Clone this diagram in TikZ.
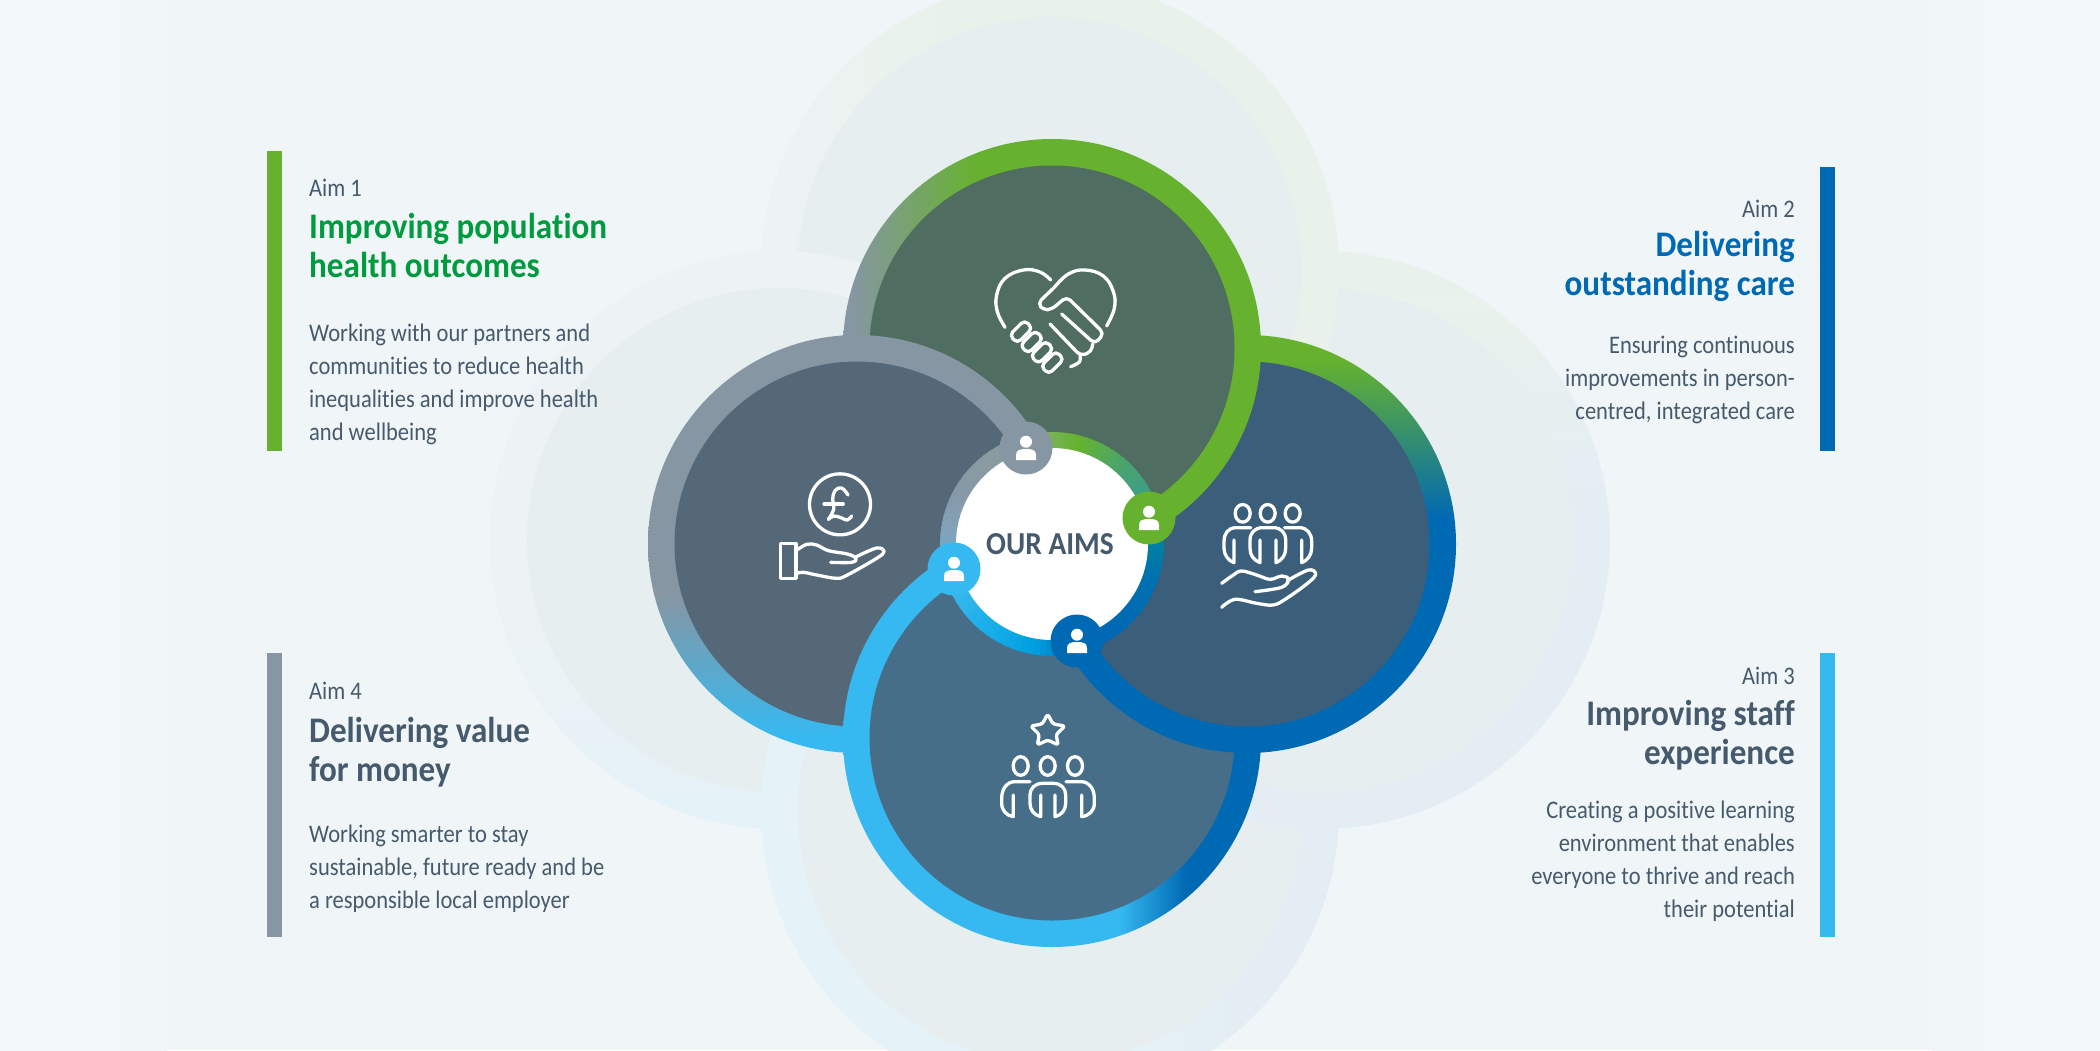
\documentclass[tikz,border=0pt]{standalone}
\usepackage{fontspec}
\setmainfont{Carlito}
\newfontfamily\bodyf[FakeStretch=0.89,Ligatures=NoCommon]{Carlito}
\newfontfamily\headf[FakeStretch=0.92,Ligatures=NoCommon]{Carlito}
\definecolor{bgmain}{HTML}{F0F5F8}
\definecolor{bgside}{HTML}{F3F8F8}
\definecolor{ghostin}{HTML}{E6EEEF}
\definecolor{cgreen}{HTML}{66B22E}
\definecolor{cblue}{HTML}{0069B4}
\definecolor{ccyan}{HTML}{36B9F0}
\definecolor{cgray}{HTML}{8696A3}
\definecolor{gleft}{HTML}{EDF2F4}
\definecolor{ggreen}{HTML}{E9F2EA}
\definecolor{gblue}{HTML}{E4EDF4}
\definecolor{gcyan}{HTML}{E5F2F7}
\definecolor{ftop}{HTML}{4F6D60}
\definecolor{fleft}{HTML}{556878}
\definecolor{fright}{HTML}{3B5F7B}
\definecolor{fbottom}{HTML}{466E88}
\definecolor{txt}{HTML}{465A6E}
\definecolor{headgreen}{HTML}{009B3E}
% main ring shadings
\pgfdeclarehorizontalshading{rtop}{100bp}{color(0bp)=(cgray); color(26bp)=(cgray); color(41bp)=(cgreen); color(100bp)=(cgreen)}
\pgfdeclareverticalshading{rright}{100bp}{color(0bp)=(cblue); color(53bp)=(cblue); color(72bp)=(cgreen); color(100bp)=(cgreen)}
\pgfdeclarehorizontalshading{rbottom}{100bp}{color(0bp)=(ccyan); color(58bp)=(ccyan); color(66bp)=(cblue); color(100bp)=(cblue)}
\pgfdeclareverticalshading{rleft}{100bp}{color(0bp)=(ccyan); color(27bp)=(ccyan); color(44bp)=(cgray); color(100bp)=(cgray)}
% pale lobes behind
\pgfdeclarehorizontalshading{gtop}{100bp}{color(0bp)=(gleft); color(26bp)=(gleft); color(41bp)=(ggreen); color(100bp)=(ggreen)}
\pgfdeclareverticalshading{gright}{100bp}{color(0bp)=(gblue); color(53bp)=(gblue); color(72bp)=(ggreen); color(100bp)=(ggreen)}
\pgfdeclarehorizontalshading{gbottom}{100bp}{color(0bp)=(gcyan); color(58bp)=(gcyan); color(66bp)=(gblue); color(100bp)=(gblue)}
\pgfdeclareverticalshading{gleftlobe}{100bp}{color(0bp)=(gcyan); color(27bp)=(gcyan); color(44bp)=(gleft); color(100bp)=(gleft)}
\newcommand{\lobe}[6]{%
  \shade[shading=#1] (#2,#3) circle[radius=#4pt];
  \fill[#6] (#2,#3) circle[radius=#5pt];}
% same lobe for the clipped repaint: the band alone is shaded, so no tint shows along the clip edge
\newcommand{\lobeband}[6]{%
  \fill[#6] (#2,#3) circle[radius=#5pt+1pt];
  \shade[shading=#1,even odd rule] (#2,#3) circle[radius=#4pt] (#2,#3) circle[radius=#5pt];}
\newcommand{\personicon}[1]{%
  \begin{scope}[shift={(#1.center)}]
    \fill[white] (0,-6.3) circle[radius=6pt];
    \fill[white] (-10,12) -- (-10,7) .. controls (-10,2) and (-6,1) .. (0,1) .. controls (6,1) and (10,2) .. (10,7) -- (10,12) -- cycle;
  \end{scope}}
\tikzset{
  icon/.style={draw=white,line width=3.3pt,line cap=round,line join=round},
  hub/.style={circle,minimum size=53pt,inner sep=0pt},
  aimlabel/.style={text=txt,inner sep=0pt,font=\bodyf\fontsize{25.3}{30}\selectfont},
  aimhead/.style={inner sep=0pt,font=\headf\fontsize{36}{39}\selectfont\bfseries},
  aimbody/.style={text=txt,inner sep=0pt,font=\bodyf\fontsize{25.3}{32.8}\selectfont},
}
\begin{document}
\begin{tikzpicture}[x=1pt,y=-1pt]
\useasboundingbox (0,0) rectangle (2100,1050);
\fill[bgmain] (0,0) rectangle (2100,1050);
\shade[left color=bgside,right color=bgmain!70!bgside] (0,0) rectangle (167,1050);
\shade[right color=bgside,left color=bgmain!70!bgside] (1932,0) rectangle (2100,1050);
% pale lobes
\begin{scope}
\clip (0,0) rectangle (2100,1050);
\lobe{gleftlobe}{779}{540}{289}{252}{ghostin}
\lobe{gbottom}{1050}{811}{289}{252}{ghostin}
\lobe{gright}{1321}{540}{289}{252}{ghostin}
\lobe{gtop}{1050}{269}{289}{252}{ghostin}
\begin{scope}
\clip (1050,269) circle[radius=291pt];
\lobeband{gleftlobe}{779}{540}{289}{252}{ghostin}
\end{scope}
\end{scope}
% main lobes, each one overlapping the next
\lobe{rleft}{857}{544}{209}{182.5}{fleft}
\lobe{rbottom}{1052}{738}{209}{182.5}{fbottom}
\lobe{rright}{1247}{544}{209}{182.5}{fright}
\lobe{rtop}{1052}{348}{209}{182.5}{ftop}
\begin{scope}
\clip (1052,348) circle[radius=211pt];
\lobeband{rleft}{857}{544}{209}{182.5}{fleft}
\end{scope}
% centre ring as a sweep of colours
\foreach \aa/\ab/\ca/\cb in {
  120/95/8A9B9E/7FB360, 95/75/7FB360/66B22E, 75/50/66B22E/4CA56A, 50/25/4CA56A/3A9C8A,
  25/5/3A9C8A/00849E, 5/-20/00849E/0070B0, -20/-50/0070B0/0069B4, -50/-75/0069B4/0069B4,
  -75/-100/0069B4/009FDF, -100/-130/009FDF/1CB0EA, -130/-160/1CB0EA/40B8EC, -160/-185/40B8EC/80A4BA,
  -185/-210/80A4BA/8699A8, -210/-240/8699A8/8A9B9E}{
  \definecolor{ca}{HTML}{\ca}\definecolor{cb}{HTML}{\cb}
  \foreach \i in {0,...,7}{
    \pgfmathsetmacro{\afrom}{\aa+(\ab-\aa)*\i/8+0.4}
    \pgfmathsetmacro{\ato}{\aa+(\ab-\aa)*(\i+1)/8-0.4}
    \pgfmathtruncatemacro{\pct}{100*(\i+0.5)/8}
    \colorlet{cseg}{cb!\pct!ca}
    \fill[cseg] ({1052+95*cos(\afrom)},{544-95*sin(\afrom)}) -- ({1052+112*cos(\afrom)},{544-112*sin(\afrom)})
      -- ({1052+112*cos(\ato)},{544-112*sin(\ato)}) -- ({1052+95*cos(\ato)},{544-95*sin(\ato)}) -- cycle;
  }
}
\node[circle,fill=white,minimum size=192pt,inner sep=0pt] (centre) at (1052,544) {};
\node[text=txt,inner sep=0pt,anchor=base,font=\headf\fontsize{32}{36}\selectfont\bfseries] (ouraims) at (1050,554) {OUR AIMS};
\node[hub,fill=cgray] (hubgray) at (1026,448) {};
\node[hub,fill=cgreen] (hubgreen) at (1149,518) {};
\node[hub,fill=cblue] (hubblue) at (1077,641) {};
\node[hub,fill=ccyan] (hubcyan) at (954,569) {};
\personicon{hubgray}\personicon{hubgreen}\personicon{hubblue}\personicon{hubcyan}
% handshake heart
\begin{scope}[shift={(960,240)},x=0.3333pt,y=-0.3333pt]
\draw[icon] plot[smooth,tension=.7] coordinates {(135,262) (112,215) (110,165) (135,115) (190,90) (240,96) (272,120)};
\draw[icon] plot[smooth,tension=.7] coordinates {(440,258) (463,205) (460,155) (430,108) (375,90) (325,102) (285,140)};
\draw[icon,rounded corners=5pt] (285,140) -- (233,190) -- (250,210) -- (275,208) -- (320,170) -- (432,280) -- (405,312) -- (305,222);
\draw[icon,rounded corners=5pt] (398,312) -- (395,335) -- (362,348) -- (270,252);
\draw[icon] plot[smooth,tension=.7] coordinates {(360,345) (358,366) (332,380)};
\foreach \cx/\cy in {183/275,215/306,246/337,277/368}{
  \draw[icon,shift={(\cx,\cy)},rotate=45,rounded corners=4.6pt] (-32,-17) rectangle (32,17);
}
\end{scope}
% pound in hand
\begin{scope}[shift={(760,480)},x=0.3333pt,y=-0.3333pt]
\draw[icon] (240,73) circle[radius=30.5pt];
\draw[icon] plot[smooth,tension=.7] coordinates {(264,45) (245,24) (225,32) (218,58) (221,88) (205,118)};
\draw[icon] (192,72) -- (250,72);
\draw[icon] plot[smooth,tension=.7] coordinates {(205,118) (222,108) (245,114) (262,120) (275,108)};
\draw[icon] (62,190) rectangle (108,295);
\draw[icon] plot[smooth,tension=.6] coordinates {(108,212) (140,193) (170,195) (205,212) (262,222) (288,235) (275,247) (212,247)};
\draw[icon] plot[smooth,tension=.6] coordinates {(285,232) (350,204) (372,215) (350,235) (262,285) (230,295) (170,285) (130,277) (108,281)};
\end{scope}
% people in hand
\begin{scope}[shift={(1200,490)},x=0.3333pt,y=-0.3333pt]
\foreach \hx in {128,203,278}{\draw[icon] (\hx,70) ellipse[x radius=7.5pt,y radius=8.8pt];}
\draw[icon] (180,150) -- (180,218) .. controls (160,210) and (150,195) .. (150,175) -- (150,150) .. controls (150,128) and (165,113) .. (188,113) -- (220,113) .. controls (243,113) and (257,128) .. (257,150) -- (257,175) .. controls (257,195) and (247,210) .. (228,218) -- (228,150);
\draw[icon] (152,113) -- (108,113) .. controls (85,113) and (72,130) .. (72,155) -- (72,175) .. controls (72,195) and (85,212) .. (102,218) -- (102,150);
\draw[icon] (254,113) -- (298,113) .. controls (321,113) and (335,130) .. (335,155) -- (335,175) .. controls (335,195) and (322,212) .. (305,218) -- (305,150);
\draw[icon] plot[smooth,tension=.6] coordinates {(65,280) (100,255) (125,243) (170,255) (210,268) (245,258) (266,268) (245,292) (165,305)};
\draw[icon] plot[smooth,tension=.6] coordinates {(262,272) (325,240) (347,252) (325,278) (260,325) (220,345) (170,340) (105,328) (65,352)};
\end{scope}
% star over people
\begin{scope}[shift={(980,700)},x=0.3333pt,y=-0.3333pt]
\draw[icon,rounded corners=2.5pt] (203,42) -- (219,72) -- (255,78) -- (228,104) -- (235,135) -- (203,120) -- (172,135) -- (178,104) -- (152,78) -- (187,72) -- cycle;
\foreach \hx in {122,203,285}{\draw[icon] (\hx,198) ellipse[x radius=7.5pt,y radius=9.3pt];}
\draw[icon] (182,285) -- (182,350) .. controls (162,345) and (150,330) .. (150,310) -- (150,285) .. controls (150,265) and (165,250) .. (188,250) -- (220,250) .. controls (243,250) and (257,265) .. (257,285) -- (257,310) .. controls (257,330) and (245,345) .. (225,350) -- (225,285);
\draw[icon] (150,245) -- (105,245) .. controls (82,245) and (65,265) .. (65,295) -- (65,310) .. controls (65,332) and (80,347) .. (100,350) -- (100,285);
\draw[icon] (258,245) -- (303,245) .. controls (326,245) and (343,265) .. (343,295) -- (343,310) .. controls (343,332) and (328,347) .. (305,350) -- (305,285);
\end{scope}
% bars
\fill[cgreen] (267,151) rectangle (282,451);
\fill[cblue] (1820,167) rectangle (1835,451);
\fill[ccyan] (1820,653) rectangle (1835,937);
\fill[cgray] (267,653) rectangle (282,937);
% texts (a multi-line node's base is its last line)
\node[aimlabel,anchor=base west] (a1) at (309,196) {Aim 1};
\node[aimhead,anchor=base west,text=headgreen,align=left] (h1) at (309,277) {Improving population\\health outcomes};
\node[aimbody,anchor=base west,align=left] (b1) at (309,440) {Working with our partners and\\communities to reduce health\\inequalities and improve health\\and wellbeing};
\node[aimlabel,anchor=base east] (a2) at (1795,217) {Aim 2};
\node[aimhead,anchor=base east,text=cblue,align=right] (h2) at (1795,295) {Delivering\\outstanding care};
\node[aimbody,anchor=base east,align=right] (b2) at (1795,419) {Ensuring continuous\\improvements in person-\\centred, integrated care};
\node[aimlabel,anchor=base east] (a3) at (1795,684) {Aim 3};
\node[aimhead,anchor=base east,text=txt,align=right] (h3) at (1795,764) {Improving staff\\experience};
\node[aimbody,anchor=base east,align=right] (b3) at (1795,917) {Creating a positive learning\\environment that enables\\everyone to thrive and reach\\their potential};
\node[aimlabel,anchor=base west] (a4) at (309,699) {Aim 4};
\node[aimhead,anchor=base west,text=txt,align=left] (h4) at (309,781) {Delivering value\\for money};
\node[aimbody,anchor=base west,align=left] (b4) at (309,908) {Working smarter to stay\\sustainable, future ready and be\\a responsible local employer};
\end{tikzpicture}
\end{document}
